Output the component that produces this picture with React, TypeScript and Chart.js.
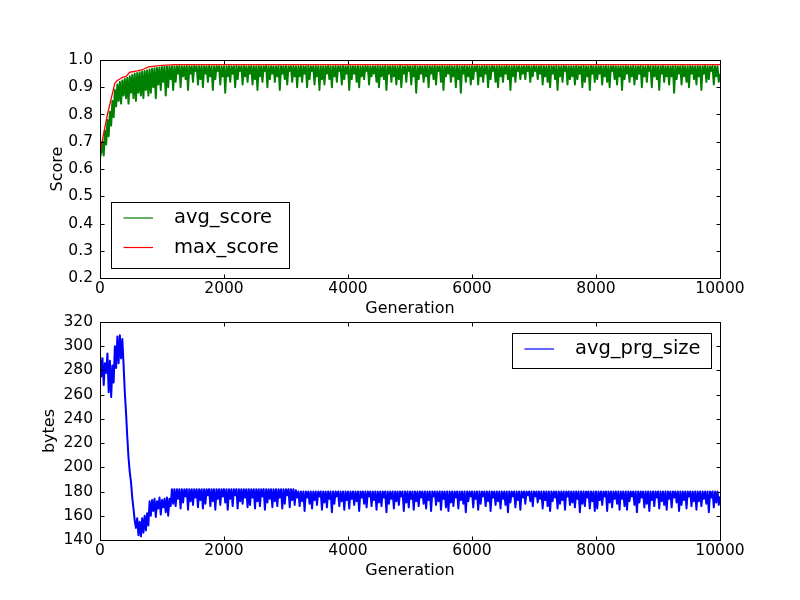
import { useEffect, useRef } from "react";
import { Chart, registerables } from "chart.js";
Chart.register(...registerables);

Chart.defaults.font.family = "'DejaVu Sans', sans-serif";
Chart.defaults.font.size = 15.5;
Chart.defaults.color = "#000";

// sampled every STEP generations
const STEP = 20;

const avgScore = [
  0.64, 0.66, 0.70, 0.65, 0.74, 0.69, 0.78, 0.72, 0.81, 0.76, 0.85, 0.79, 0.89, 0.83, 0.91, 0.85, 0.92, 0.84, 0.925, 0.87,
  0.93, 0.86, 0.935, 0.84, 0.94, 0.88, 0.945, 0.86, 0.95, 0.85, 0.952, 0.88, 0.955, 0.87, 0.958, 0.86, 0.96, 0.89, 0.962, 0.87,
  0.965, 0.88, 0.968, 0.90, 0.97, 0.86, 0.971, 0.91, 0.972, 0.89, 0.974, 0.92, 0.975, 0.87, 0.976, 0.90, 0.976, 0.93, 0.977, 0.89,
  0.977, 0.92, 0.977, 0.95, 0.978, 0.90, 0.977, 0.94, 0.977, 0.93, 0.978, 0.89, 0.977, 0.95, 0.977, 0.92, 0.978, 0.96, 0.977, 0.91,
  0.977, 0.93, 0.978, 0.90, 0.977, 0.95, 0.977, 0.92, 0.978, 0.94, 0.977, 0.89, 0.977, 0.93, 0.978, 0.96, 0.977, 0.91, 0.977, 0.94,
  0.977, 0.88, 0.977, 0.94, 0.978, 0.92, 0.977, 0.95, 0.977, 0.90, 0.978, 0.93, 0.977, 0.96, 0.977, 0.91, 0.978, 0.94, 0.977, 0.92,
  0.977, 0.95, 0.978, 0.91, 0.977, 0.93, 0.977, 0.89, 0.978, 0.94, 0.977, 0.92, 0.977, 0.96, 0.978, 0.90, 0.977, 0.93, 0.977, 0.95,
  0.977, 0.92, 0.977, 0.94, 0.978, 0.89, 0.977, 0.95, 0.977, 0.93, 0.978, 0.91, 0.977, 0.96, 0.977, 0.92, 0.978, 0.94, 0.977, 0.90,
  0.977, 0.94, 0.978, 0.92, 0.977, 0.95, 0.977, 0.90, 0.978, 0.93, 0.977, 0.96, 0.977, 0.91, 0.978, 0.94, 0.977, 0.89, 0.977, 0.93,
  0.977, 0.91, 0.977, 0.95, 0.978, 0.93, 0.977, 0.90, 0.977, 0.94, 0.978, 0.92, 0.977, 0.96, 0.977, 0.91, 0.978, 0.93, 0.977, 0.95,
  0.977, 0.89, 0.978, 0.93, 0.977, 0.95, 0.977, 0.92, 0.978, 0.90, 0.977, 0.94, 0.977, 0.93, 0.978, 0.96, 0.977, 0.91, 0.977, 0.94,
  0.977, 0.95, 0.977, 0.92, 0.978, 0.90, 0.977, 0.94, 0.977, 0.93, 0.978, 0.89, 0.977, 0.95, 0.977, 0.92, 0.978, 0.94, 0.977, 0.91,
  0.977, 0.93, 0.978, 0.90, 0.977, 0.95, 0.977, 0.92, 0.978, 0.96, 0.977, 0.91, 0.977, 0.94, 0.978, 0.88, 0.977, 0.93, 0.977, 0.95,
  0.977, 0.92, 0.977, 0.94, 0.978, 0.90, 0.977, 0.95, 0.977, 0.93, 0.978, 0.91, 0.977, 0.96, 0.977, 0.92, 0.978, 0.89, 0.977, 0.94,
  0.977, 0.95, 0.978, 0.92, 0.977, 0.94, 0.977, 0.90, 0.978, 0.93, 0.977, 0.88, 0.977, 0.95, 0.978, 0.92, 0.977, 0.94, 0.977, 0.91,
  0.977, 0.93, 0.977, 0.96, 0.978, 0.91, 0.977, 0.94, 0.977, 0.92, 0.978, 0.95, 0.977, 0.90, 0.977, 0.93, 0.978, 0.96, 0.977, 0.92,
  0.977, 0.90, 0.978, 0.94, 0.977, 0.92, 0.977, 0.95, 0.978, 0.93, 0.977, 0.89, 0.977, 0.94, 0.978, 0.92, 0.977, 0.96, 0.977, 0.93,
  0.977, 0.95, 0.977, 0.93, 0.978, 0.96, 0.977, 0.92, 0.977, 0.94, 0.978, 0.96, 0.977, 0.93, 0.977, 0.95, 0.978, 0.91, 0.977, 0.94,
  0.977, 0.92, 0.978, 0.90, 0.977, 0.95, 0.977, 0.93, 0.978, 0.89, 0.977, 0.94, 0.977, 0.92, 0.978, 0.96, 0.977, 0.91, 0.977, 0.93,
  0.977, 0.94, 0.977, 0.91, 0.978, 0.93, 0.977, 0.95, 0.977, 0.90, 0.978, 0.92, 0.977, 0.94, 0.977, 0.89, 0.978, 0.95, 0.977, 0.92,
  0.977, 0.93, 0.978, 0.95, 0.977, 0.91, 0.977, 0.94, 0.978, 0.92, 0.977, 0.90, 0.977, 0.96, 0.978, 0.93, 0.977, 0.91, 0.977, 0.94,
  0.977, 0.89, 0.977, 0.93, 0.978, 0.95, 0.977, 0.92, 0.977, 0.94, 0.978, 0.91, 0.977, 0.93, 0.977, 0.95, 0.978, 0.90, 0.977, 0.94,
  0.977, 0.92, 0.978, 0.96, 0.977, 0.90, 0.977, 0.94, 0.978, 0.93, 0.977, 0.89, 0.977, 0.95, 0.978, 0.92, 0.977, 0.94, 0.977, 0.91,
  0.977, 0.94, 0.977, 0.88, 0.978, 0.93, 0.977, 0.95, 0.977, 0.91, 0.978, 0.94, 0.977, 0.92, 0.977, 0.90, 0.978, 0.95, 0.977, 0.93,
  0.977, 0.91, 0.978, 0.94, 0.977, 0.89, 0.977, 0.95, 0.978, 0.92, 0.977, 0.93, 0.977, 0.96, 0.978, 0.91, 0.977, 0.94, 0.977, 0.92,
  0.95,
];

const maxScoreGens = [0, 50, 120, 240, 280, 350, 420, 480, 600, 700, 780, 1000, 1200, 10000];
const maxScore = [0.66, 0.72, 0.80, 0.915, 0.925, 0.935, 0.94, 0.955, 0.96, 0.966, 0.975, 0.98, 0.983, 0.983];

const avgPrgSize = [
  292, 275, 290, 268, 286, 278, 294, 262, 288, 258, 284, 270, 300, 282, 308, 286, 309, 290, 306, 285,
  262, 245, 225, 208, 196, 188, 175, 166, 156, 150, 158, 144, 155, 143, 158, 146, 160, 148, 162, 152,
  172, 160, 173, 164, 174, 159, 172, 166, 175, 161, 173, 167, 174, 163, 175, 160, 174, 168, 182, 170,
  182, 168, 182, 174, 182, 166, 182, 171, 182, 176, 182, 165, 182, 172, 182, 169, 182, 175, 182, 167,
  182, 173, 182, 166, 182, 170, 182, 177, 182, 168, 182, 172, 182, 165, 182, 174, 182, 169, 182, 176,
  182, 171, 182, 165, 182, 174, 182, 168, 182, 177, 182, 166, 182, 172, 182, 170, 182, 175, 182, 167,
  182, 169, 182, 175, 182, 166, 182, 172, 182, 168, 182, 176, 182, 165, 182, 171, 182, 174, 182, 167,
  182, 172, 182, 168, 182, 175, 182, 166, 182, 170, 182, 177, 182, 167, 182, 173, 182, 169, 181, 175,
  180, 168, 180, 172, 180, 164, 180, 175, 180, 170, 180, 166, 180, 173, 180, 169, 180, 176, 180, 165,
  180, 171, 180, 167, 180, 174, 180, 163, 180, 170, 180, 176, 180, 168, 180, 172, 180, 165, 180, 173,
  180, 166, 180, 174, 180, 169, 180, 172, 180, 164, 180, 175, 180, 170, 180, 167, 180, 176, 180, 168,
  180, 173, 180, 165, 180, 171, 180, 168, 180, 175, 180, 163, 180, 170, 180, 174, 180, 166, 180, 172,
  180, 169, 180, 176, 180, 164, 180, 171, 180, 167, 180, 174, 180, 165, 180, 172, 180, 168, 180, 175,
  180, 170, 180, 166, 180, 173, 180, 164, 180, 176, 180, 169, 180, 172, 180, 165, 180, 174, 180, 167,
  180, 164, 180, 171, 180, 168, 180, 175, 180, 166, 180, 173, 180, 170, 180, 163, 180, 172, 180, 176,
  180, 167, 180, 174, 180, 165, 180, 170, 180, 176, 180, 168, 180, 172, 180, 164, 180, 175, 180, 169,
  180, 172, 180, 166, 180, 174, 180, 169, 180, 163, 180, 171, 180, 176, 180, 167, 180, 173, 180, 165,
  180, 175, 180, 170, 180, 177, 180, 172, 180, 168, 180, 176, 180, 171, 180, 174, 180, 166, 180, 173,
  180, 168, 180, 164, 180, 172, 180, 175, 180, 166, 180, 170, 180, 173, 180, 165, 180, 176, 180, 169,
  180, 171, 180, 167, 180, 174, 180, 163, 180, 170, 180, 168, 180, 175, 180, 166, 180, 172, 180, 164,
  180, 166, 180, 173, 180, 169, 180, 176, 180, 164, 180, 171, 180, 167, 180, 174, 180, 170, 180, 165,
  180, 174, 180, 168, 180, 165, 180, 172, 180, 176, 180, 169, 180, 163, 180, 171, 180, 175, 180, 167,
  180, 170, 180, 164, 180, 173, 180, 168, 180, 175, 180, 166, 180, 172, 180, 169, 180, 165, 180, 174,
  180, 167, 180, 175, 180, 171, 180, 164, 180, 169, 180, 173, 180, 166, 180, 176, 180, 168, 180, 172,
  180, 165, 180, 172, 180, 168, 180, 174, 180, 170, 180, 163, 180, 175, 180, 167, 180, 171, 180, 169,
  176,
];

const genMin = 0;
const genMax = 10000;
const genStep = 2000;

// matplotlib-like box with inward ticks on all four sides
const framePlugin = {
  id: "mplFrame",
  afterDatasetsDraw(chart: any) {
    const { ctx, chartArea: a, scales } = chart;
    const L = Math.round(a.left) + 0.5;
    const R = Math.round(a.right) + 0.5;
    const T = Math.round(a.top) + 0.5;
    const B = Math.round(a.bottom) + 0.5;
    ctx.save();
    ctx.strokeStyle = "#000";
    ctx.lineWidth = 1;
    ctx.strokeRect(L, T, R - L, B - T);
    ctx.beginPath();
    for (const t of scales.x.ticks) {
      const px = Math.round(scales.x.getPixelForValue(t.value)) + 0.5;
      ctx.moveTo(px, B); ctx.lineTo(px, B - 4);
      ctx.moveTo(px, T); ctx.lineTo(px, T + 4);
    }
    for (const t of scales.y.ticks) {
      const py = Math.round(scales.y.getPixelForValue(t.value)) + 0.5;
      ctx.moveTo(L, py); ctx.lineTo(L + 4, py);
      ctx.moveTo(R, py); ctx.lineTo(R - 4, py);
    }
    ctx.stroke();
    ctx.restore();
  },
};

const legendPlugin = {
  id: "mplLegend",
  afterDraw(chart: any, _args: any, opts: any) {
    const { ctx, chartArea: a } = chart;
    const items = chart.data.datasets.map((d: any) => ({ label: d.label, color: d.borderColor }));
    ctx.save();
    ctx.font = "19.5px 'DejaVu Sans'";
    const textW = Math.max(...items.map((i: any) => ctx.measureText(i.label).width));
    const w = Math.round(63 + textW + 10);
    const h = Math.round(4.5 + 30.75 * items.length);
    let left: number, top: number;
    if (opts.corner === "lower left") {
      left = Math.round(a.left + 10.5);
      top = Math.round(a.bottom - 10.5 - h);
    } else {
      left = Math.round(a.right - 9.5 - w);
      top = Math.round(a.top + 10.5);
    }
    ctx.fillStyle = "#fff";
    ctx.fillRect(left, top, w, h);
    ctx.strokeStyle = "#000";
    ctx.lineWidth = 1;
    ctx.strokeRect(left + 0.5, top + 0.5, w, h);
    items.forEach((it: any, i: number) => {
      const cy = top + 16 + i * 29.5;
      ctx.strokeStyle = it.color;
      ctx.lineWidth = 1.2;
      ctx.beginPath();
      ctx.moveTo(left + 12.5, cy);
      ctx.lineTo(left + 42, cy);
      ctx.stroke();
      ctx.fillStyle = "#000";
      ctx.textBaseline = "middle";
      ctx.textAlign = "left";
      ctx.fillText(it.label, left + 63, cy);
    });
    ctx.restore();
  },
};

function Panel({
  top, height, datasets, yMin, yMax, yStep, yDigits, yTitle, yTitleLeft, padTop, padBottom, legendCorner,
}: any) {
  const canvasRef = useRef<HTMLCanvasElement>(null);

  useEffect(() => {
    if (!canvasRef.current) return;
    const chart = new Chart(canvasRef.current, {
      type: "line",
      data: { datasets },
      options: {
        animation: false,
        responsive: false,
        devicePixelRatio: 1,
        layout: { padding: { left: yTitleLeft, right: 80, top: padTop, bottom: padBottom } },
        plugins: {
          legend: { display: false },
          tooltip: { enabled: false },
          mplLegend: { corner: legendCorner },
        } as any,
        elements: { point: { radius: 0 }, line: { tension: 0, borderJoinStyle: "round" } },
        scales: {
          x: {
            type: "linear",
            min: genMin,
            max: genMax,
            ticks: { stepSize: genStep, padding: 2, maxRotation: 0, autoSkip: false, callback: (v: any) => String(v) },
            grid: { display: false, drawTicks: false },
            border: { display: false },
            title: { display: true, text: "Generation", padding: 0, font: { size: 16 } },
            afterFit: (s: any) => { s.height = 40; },
          },
          y: {
            type: "linear",
            min: yMin,
            max: yMax,
            ticks: { stepSize: yStep, padding: 7, autoSkip: false, callback: (v: any) => Number(v).toFixed(yDigits) },
            grid: { display: false, drawTicks: false },
            border: { display: false },
            title: { display: true, text: yTitle, padding: 0, font: { size: 16 } },
            afterFit: (s: any) => { s.width = 100 - yTitleLeft; },
          },
        },
      },
      plugins: [framePlugin, legendPlugin],
    });
    return () => chart.destroy();
  }, []);

  return (
    <canvas
      ref={canvasRef}
      width={800}
      height={height}
      style={{ position: "absolute", left: 0, top, width: 800, height }}
    />
  );
}

export default function App() {
  const scoreSets = [
    {
      label: "avg_score",
      data: avgScore.map((y, i) => ({ x: i * STEP, y })),
      borderColor: "#008000",
      borderWidth: 2,
      order: 1,
    },
    {
      label: "max_score",
      data: maxScore.map((y, i) => ({ x: maxScoreGens[i], y })),
      borderColor: "#ff0000",
      borderWidth: 1.3,
      order: 0,
    },
  ];
  const sizeSets = [
    {
      label: "avg_prg_size",
      data: avgPrgSize.map((y, i) => ({ x: i * STEP, y })),
      borderColor: "#0000ff",
      borderWidth: 2,
    },
  ];

  return (
    <div style={{ position: "absolute", left: 0, top: 0, width: 800, height: 600, background: "#fff" }}>
      <Panel
        top={0} height={320} datasets={scoreSets}
        yMin={0.2} yMax={1.0} yStep={0.1} yDigits={1} yTitle="Score" yTitleLeft={48}
        padTop={60} padBottom={2} legendCorner="lower left"
      />
      <Panel
        top={300} height={300} datasets={sizeSets}
        yMin={140} yMax={320} yStep={20} yDigits={0} yTitle="bytes" yTitleLeft={40}
        padTop={22} padBottom={20} legendCorner="upper right"
      />
    </div>
  );
}
